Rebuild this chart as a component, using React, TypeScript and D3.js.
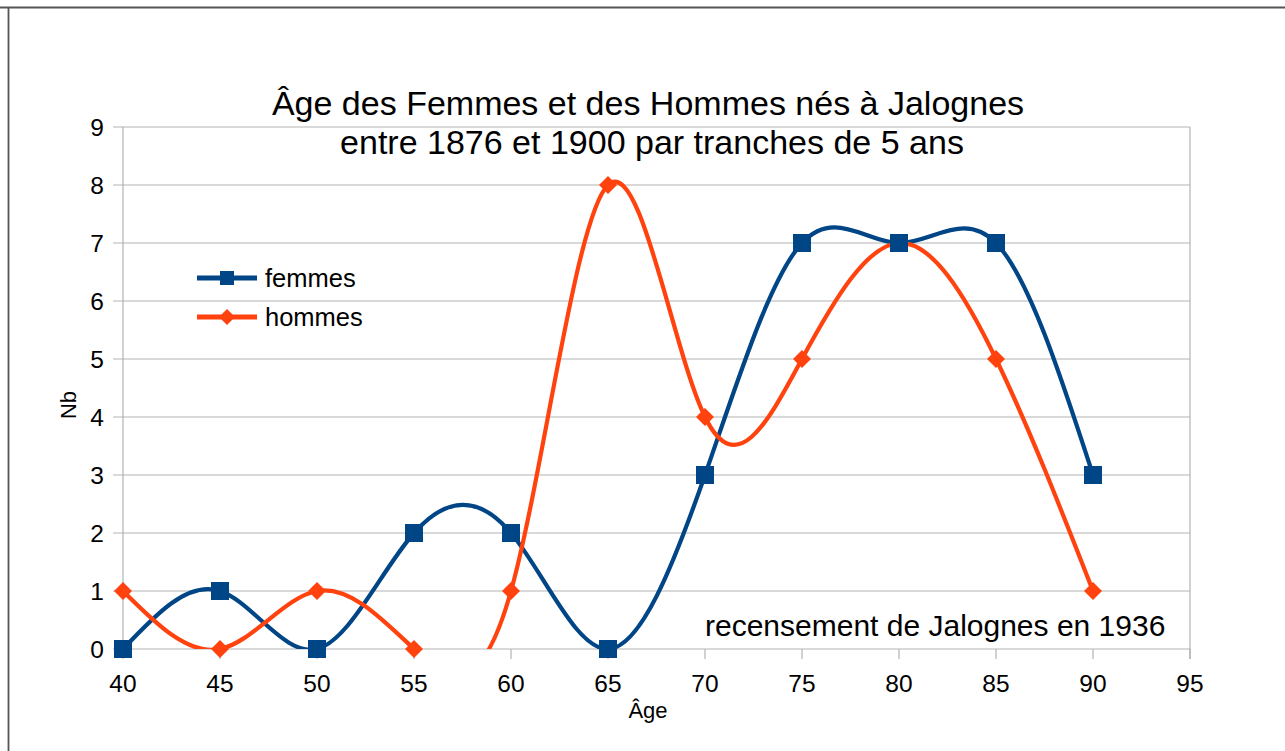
import * as d3 from 'd3';

const ages = [40, 45, 50, 55, 60, 65, 70, 75, 80, 85, 90];
const femmes = [0, 1, 0, 2, 2, 0, 3, 7, 7, 7, 3];
const hommes = [1, 0, 1, 0, 1, 8, 4, 5, 7, 5, 1];
const xTicks = [40, 45, 50, 55, 60, 65, 70, 75, 80, 85, 90, 95];
const yTicks = [0, 1, 2, 3, 4, 5, 6, 7, 8, 9];

const BLUE = '#004586';
const ORANGE = '#ff420e';
const GRID = '#b3b3b3';
const FONT = '"Liberation Sans", Arial, sans-serif';

const width = 1285;
const height = 751;
const plot = { left: 123, right: 1190, top: 127, bottom: 649 };

export default function App() {
  const x = d3.scaleLinear().domain([40, 95]).range([plot.left, plot.right]);
  const y = d3.scaleLinear().domain([0, 9]).range([plot.bottom, plot.top]);

  const line = d3
    .line<number>()
    .x((_, i) => x(ages[i]))
    .y((d) => y(d))
    .curve(d3.curveNatural);

  const diamond = (cx: number, cy: number, r: number) =>
    `M${cx},${cy - r}L${cx + r},${cy}L${cx},${cy + r}L${cx - r},${cy}Z`;

  return (
    <svg
      width={width}
      height={height}
      style={{ position: 'absolute', left: 0, top: 0, background: '#fff' }}
      fontFamily={FONT}
    >
      <defs>
        <clipPath id="plot-clip">
          <rect x={plot.left} y={plot.top} width={plot.right - plot.left} height={plot.bottom - plot.top} />
        </clipPath>
      </defs>

      {/* outer frame edges */}
      <line x1={0} x2={width} y1={7.5} y2={7.5} stroke="#555" strokeWidth={1.8} />
      <line x1={8.5} x2={8.5} y1={7.5} y2={height} stroke="#555" strokeWidth={1.8} />

      {/* grid */}
      {yTicks.map((t) => (
        <g key={`y${t}`}>
          <line x1={plot.left - 10} x2={plot.right} y1={y(t)} y2={y(t)} stroke={GRID} strokeWidth={1.2} />
          <text x={104} y={y(t)} dy="0.36em" textAnchor="end" fontSize={24.5} fill="#000">
            {t}
          </text>
        </g>
      ))}
      <line x1={plot.left} x2={plot.left} y1={plot.top} y2={plot.bottom} stroke={GRID} strokeWidth={1.2} />
      <line x1={plot.right} x2={plot.right} y1={plot.top} y2={plot.bottom + 10} stroke={GRID} strokeWidth={1.2} />
      {xTicks.map((t) => (
        <g key={`x${t}`}>
          <line x1={x(t)} x2={x(t)} y1={plot.bottom} y2={plot.bottom + 10} stroke={GRID} strokeWidth={1.2} />
          <text x={x(t)} y={692} textAnchor="middle" fontSize={24.5} fill="#000">
            {t}
          </text>
        </g>
      ))}

      {/* series */}
      <g clipPath="url(#plot-clip)">
        <path d={line(femmes) ?? ''} fill="none" stroke={BLUE} strokeWidth={4.2} />
        <path d={line(hommes) ?? ''} fill="none" stroke={ORANGE} strokeWidth={4.2} />
      </g>
      {hommes.map((v, i) => (
        <path key={`h${i}`} d={diamond(x(ages[i]), y(v), 9)} fill={ORANGE} />
      ))}
      {femmes.map((v, i) => (
        <rect key={`f${i}`} x={x(ages[i]) - 9} y={y(v) - 9} width={18} height={18} fill={BLUE} />
      ))}

      {/* title */}
      <text x={648} y={115} textAnchor="middle" fontSize={34} fill="#000">
        Âge des Femmes et des Hommes nés à Jalognes
      </text>
      <text x={652} y={154} textAnchor="middle" fontSize={34} fill="#000">
        entre 1876 et 1900 par tranches de 5 ans
      </text>

      {/* axis titles */}
      <text x={648} y={718} textAnchor="middle" fontSize={22} fill="#000">
        Âge
      </text>
      <text transform="translate(76,405) rotate(-90)" textAnchor="middle" fontSize={22} fill="#000">
        Nb
      </text>

      {/* legend */}
      <line x1={197} x2={257} y1={278} y2={278} stroke={BLUE} strokeWidth={5} />
      <rect x={220} y={271} width={14} height={14} fill={BLUE} />
      <text x={265} y={278} dy="0.36em" fontSize={25.5} fill="#000">
        femmes
      </text>
      <line x1={197} x2={257} y1={317} y2={317} stroke={ORANGE} strokeWidth={5} />
      <path d={diamond(227, 317, 8)} fill={ORANGE} />
      <text x={265} y={317} dy="0.36em" fontSize={25.5} fill="#000">
        hommes
      </text>

      {/* annotation */}
      <text x={705} y={636} fontSize={30} fill="#000">
        recensement de Jalognes en 1936
      </text>
    </svg>
  );
}
